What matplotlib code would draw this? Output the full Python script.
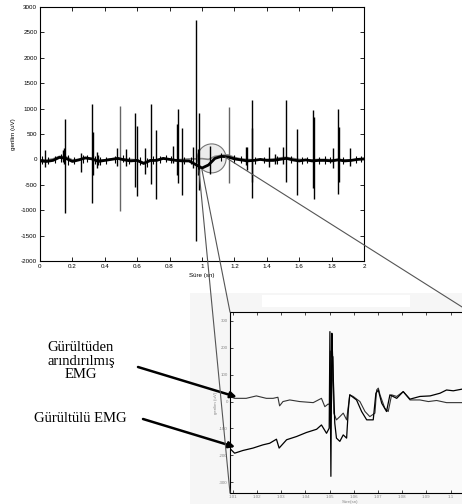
import matplotlib
matplotlib.use("Agg")
import matplotlib.pyplot as plt
from matplotlib.patches import Ellipse, Rectangle, ConnectionPatch

plt.rcParams['axes.unicode_minus'] = False

# main EMG trace: slow baseline of the noisy (black) and denoised (gray) signal
base_t = [0.00, 0.04, 0.08, 0.12, 0.16, 0.20, 0.24, 0.28, 0.32, 0.36, 0.40, 0.44, 0.48,
          0.52, 0.56, 0.60, 0.64, 0.68, 0.72, 0.76, 0.80, 0.84, 0.88, 0.92, 0.96, 1.00,
          1.04, 1.08, 1.12, 1.16, 1.20, 1.24, 1.28, 1.32, 1.36, 1.40, 1.44, 1.48, 1.52,
          1.56, 1.60, 1.64, 1.68, 1.72, 1.76, 1.80, 1.84, 1.88, 1.92, 1.96, 2.00]
noisy_base = [-30, -40, -20, 40, 20, -40, -10, 30, 10, -40, -20, 0, 20, -10, -30, -20,
              -80, -20, -20, 20, 0, -20, -30, -30, -100, -170, -110, 20, 60, 50, 10, -10,
              -30, -20, 0, -20, -20, 0, 20, -10, -30, -10, -30, -20, -20, -30, -10, -30,
              -20, 0, 10]
clean_base = [-20, -10, 10, 60, 50, -10, 0, 20, 10, -10, -10, 10, 20, 10, 0, -10, -60,
              -40, 0, 10, 0, -10, 0, 10, 10, 15, 0, 60, 80, 90, 40, 10, 0, -10, -10, 0,
              10, 30, 40, 20, 0, -10, -10, 0, 0, -10, 0, -10, -10, 0, 0]

# spikes (time, max, min)
spike_t = [0.029, 0.140, 0.150, 0.156, 0.255, 0.321, 0.325, 0.354, 0.360, 0.473, 0.533,
           0.587, 0.600, 0.648, 0.683, 0.716, 0.819, 0.845, 0.852, 0.877, 0.943, 0.960,
           0.973, 0.980, 1.051, 1.270, 1.276, 1.307, 1.310, 1.416, 1.450, 1.500, 1.519,
           1.585, 1.687, 1.693, 1.807, 1.842, 1.847, 1.914]
spike_hi = [190, 180, 230, 800, 120, 1100, 530, 140, 80, 230, 210, 920, 660, 230, 1100,
            580, 260, 700, 1000, 620, 250, 2750, 200, 920, 260, 250, 250, 1170, 615, 240,
            100, 250, 1170, 600, 970, 840, 220, 1000, 640, 220]
spike_lo = [-150, -60, -100, -1050, -250, -850, -300, -170, -120, -130, -130, -550, -730,
            -280, -480, -785, -70, -300, -470, -700, -170, -1600, -300, -600, -280, -110,
            -210, -760, -440, -145, -100, -100, -440, -700, -570, -785, -175, -690, -440,
            -130]
gray_spike_t = [0.494, 1.169]
gray_spike_hi = [1060, 1030]
gray_spike_lo = [-1010, -460]

# small bursts that thicken the noisy baseline
burst_t = [0.010, 0.050, 0.090, 0.130, 0.170, 0.210, 0.265, 0.290, 0.340, 0.370, 0.410,
           0.460, 0.510, 0.550, 0.620, 0.660, 0.695, 0.740, 0.780, 0.810, 0.890, 0.930,
           1.120, 1.200, 1.240, 1.330, 1.380, 1.460, 1.550, 1.620, 1.650, 1.720, 1.760,
           1.790, 1.870, 1.950, 1.980]
burst_hi = [60, 50, 70, 110, 90, 40, 80, 90, 70, 50, 40, 60, 80, 50, 40, 30, 60, 70, 80,
            60, 50, 40, 130, 80, 60, 50, 40, 60, 70, 40, 50, 40, 60, 50, 40, 60, 70]
burst_lo = [-90, -100, -70, -60, -110, -100, -80, -60, -90, -110, -90, -70, -60, -90,
            -120, -150, -90, -70, -60, -80, -90, -100, -30, -70, -80, -90, -80, -90, -70,
            -90, -80, -100, -90, -80, -90, -80, -60]

# zoomed window 1.01 - 1.1 s
clean_t = [1.0086, 1.0107, 1.0155, 1.0197, 1.0238, 1.0266, 1.0286, 1.0293, 1.0307, 1.0335,
           1.0376, 1.0432, 1.0466, 1.0480, 1.0494, 1.0500, 1.0503, 1.0507, 1.0514, 1.0517,
           1.0528, 1.0542, 1.0556, 1.0570, 1.0583, 1.0597, 1.0625, 1.0646, 1.0666, 1.0687,
           1.0694, 1.0701, 1.0708, 1.0728, 1.0742, 1.0756, 1.0777, 1.0804, 1.0832, 1.0873,
           1.0908, 1.0942, 1.0983, 1.1046, 1.108]
clean_v = [19, 12, 12, 21, 12, 12, 16, -16, 0, 6, 0, -4, 12, -19, -9, -12, 188, -19, 167,
           -43, -68, -56, -43, -68, 25, 19, 0, -37, -56, -43, 43, 50, 25, -25, -37, 25, 19,
           37, 6, 6, 0, 4, -4, -4, -3]
noisy_t = [1.0086, 1.0107, 1.0141, 1.0183, 1.0224, 1.0252, 1.0280, 1.0291, 1.0322, 1.0363,
           1.0404, 1.0446, 1.0466, 1.0487, 1.0498, 1.0501, 1.0505, 1.0509, 1.0512, 1.0521,
           1.0528, 1.0542, 1.0556, 1.0570, 1.0577, 1.0583, 1.0611, 1.0632, 1.0653, 1.0680,
           1.0691, 1.0701, 1.0715, 1.0735, 1.0749, 1.0777, 1.0804, 1.0832, 1.0873, 1.0915,
           1.0956, 1.0983, 1.1011, 1.1046, 1.108]
noisy_v = [-173, -192, -182, -173, -161, -155, -140, -173, -142, -130, -115, -103, -87,
           -118, -99, 260, -278, 254, 167, -80, -136, -148, -124, -136, -31, 25, 6, -37,
           -68, -68, 31, 43, -6, -37, 25, 12, 37, 9, 19, 21, 31, 43, 40, 46, 48]

main_xticks = [0, 0.2, 0.4, 0.6, 0.8, 1, 1.2, 1.4, 1.6, 1.8, 2]
main_xlabels = ['0', '0.2', '0.4', '0.6', '0.8', '1', '1.2', '1.4', '1.6', '1.8', '2']
main_yticks = [-2000, -1500, -1000, -500, 0, 500, 1000, 1500, 2000, 2500, 3000]
zoom_xticks = [1.01, 1.02, 1.03, 1.04, 1.05, 1.06, 1.07, 1.08, 1.09, 1.1]
zoom_xlabels = ['1.01', '1.02', '1.03', '1.04', '1.05', '1.06', '1.07', '1.08', '1.09', '1.1']
zoom_yticks = [-300, -200, -100, 0, 100, 200, 300]

W, H = 462, 504


def px(l, t, r, b):
    return [l / W, 1 - b / H, (r - l) / W, (b - t) / H]


fig = plt.figure(figsize=(W / 100, H / 100), dpi=100)
fig.patch.set_facecolor('white')

# light panel behind the zoomed plot
fig.add_artist(Rectangle((190 / W, 0), (W - 190) / W, (H - 293) / H,
                         transform=fig.transFigure, fc='#f6f6f6', ec='none', zorder=-2))
fig.add_artist(Rectangle((262 / W, 1 - 307 / H), 148 / W, 12 / H,
                         transform=fig.transFigure, fc='white', ec='none', zorder=-1))

tick_font = dict(family='Liberation Sans')

# main plot
ax = fig.add_axes(px(40, 7, 364, 261))
ax.add_patch(Ellipse((1.06, 20), 0.178, 570, fc='#ececec', ec='#777777', lw=0.8, zorder=1))
ax.plot(base_t, clean_base, color='#888888', lw=1.2, zorder=2)
ax.vlines(gray_spike_t, gray_spike_lo, gray_spike_hi, color='#666666', lw=1.0, zorder=2)
ax.plot(base_t, noisy_base, color='black', lw=2.0, zorder=3)
ax.vlines(burst_t, burst_lo, burst_hi, color='black', lw=0.8, zorder=3)
ax.vlines(spike_t, spike_lo, spike_hi, color='black', lw=1.0, zorder=3)
ax.set_xlim(0, 2)
ax.set_ylim(-2000, 3000)
ax.set_xticks(main_xticks)
ax.set_xticklabels(main_xlabels, **tick_font)
ax.set_yticks(main_yticks)
ax.set_yticklabels([str(v) for v in main_yticks], **tick_font)
ax.tick_params(direction='in', top=True, right=True, length=3, width=0.6,
               labelsize=4.5, pad=2)
ax.set_xlabel('Süre (sn)', fontsize=4.5, labelpad=3, **tick_font)
ax.set_ylabel('gerilim (uV)', fontsize=4.5, labelpad=4, **tick_font)
for s in ax.spines.values():
    s.set_linewidth(0.8)

# zoomed plot
ins = fig.add_axes(px(230, 312, 470, 493))
ins.set_facecolor('#fafafa')
ins.plot(clean_t, clean_v, color='#333333', lw=0.8)
ins.plot(noisy_t, noisy_v, color='black', lw=0.9)
ins.set_xlim(1.0088, 1.108)
ins.set_ylim(-340, 333)
ins.set_xticks(zoom_xticks)
ins.set_xticklabels(zoom_xlabels, **tick_font)
ins.set_yticks(zoom_yticks)
ins.set_yticklabels([str(v) for v in zoom_yticks], **tick_font)
ins.tick_params(direction='in', top=True, right=True, length=2.5, width=0.5,
                labelsize=3.2, labelcolor='#888888', pad=1.5)
ins.set_xlabel('Süre(sn)', fontsize=3.2, color='#888888', labelpad=1, **tick_font)
ins.set_ylabel('gerilim (uV)', fontsize=3.2, color='#888888', labelpad=1, **tick_font)
for s in ins.spines.values():
    s.set_linewidth(0.8)

# zoom connector lines
for xa, ya, xb, yb in [(0.981, -209, 0, 0), (1.000, -209, 0, 1), (1.142, 47, 1, 1)]:
    con = ConnectionPatch(xyA=(xa, ya), coordsA=ax.transData, xyB=(xb, yb),
                          coordsB=ins.transAxes, color='#555555', lw=0.8, zorder=5)
    fig.add_artist(con)

# labels with arrows
serif = dict(family='Liberation Serif', fontsize=10.5)
fig.text(81 / W, 1 - 361 / H, 'Gürültüden\narındırılmış\nEMG', ha='center', va='center',
         linespacing=1.08, **serif)
fig.text(80 / W, 1 - 418 / H, 'Gürültülü EMG', ha='center', va='center', **serif)
arrow = dict(arrowstyle='-|>', color='black', lw=1.8, mutation_scale=9, shrinkA=0, shrinkB=0)
ins.annotate('', xy=(1.0116, 17), xycoords='data', xytext=(138, H - 367),
             textcoords='figure pixels', arrowprops=arrow, annotation_clip=False)
ins.annotate('', xy=(1.0109, -169), xycoords='data', xytext=(143, H - 419),
             textcoords='figure pixels', arrowprops=arrow, annotation_clip=False)

fig.savefig('out.png', dpi=100)
